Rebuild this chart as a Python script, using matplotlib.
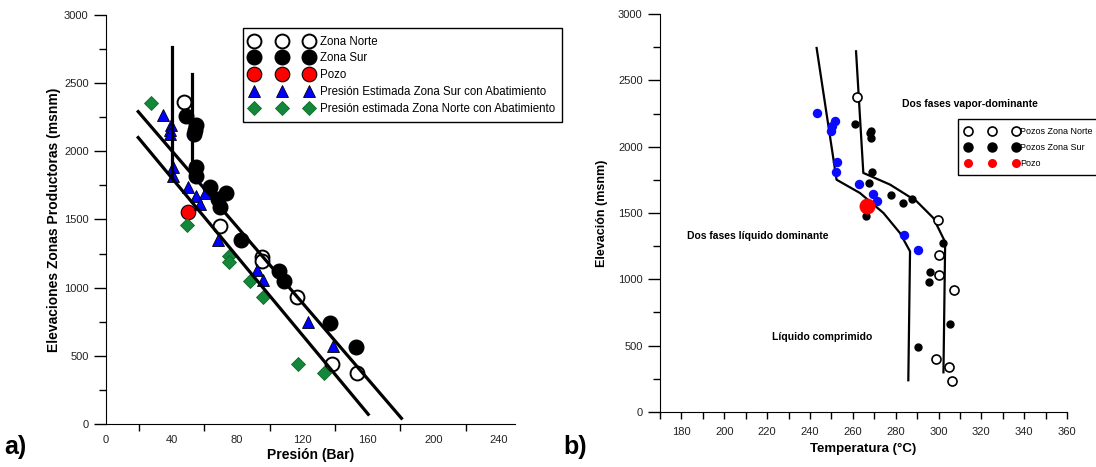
import matplotlib
matplotlib.use('Agg')
import matplotlib.pyplot as plt
from matplotlib.ticker import MultipleLocator

plt.rcParams['font.family'] = ['Liberation Sans', 'DejaVu Sans']

# ---- panel a): presion vs elevacion ----
norte_p = [47.7, 69.8, 95.4, 95.4, 117.0, 138.0, 153.6]
norte_e = [2365, 1455, 1228, 1198, 934, 438, 377]

sur_p = [48.7, 54.8, 54.2, 53.6, 55.2, 54.8, 63.3, 73.4, 68.4, 69.8, 82.6, 105.9, 109.0, 137.0, 152.6]
sur_e = [2260, 2194, 2160, 2125, 1888, 1822, 1736, 1692, 1649, 1594, 1347, 1123, 1049, 743, 567]

pozo_p = [50.1]
pozo_e = [1558]

est_sur_p = [34.9, 40.0, 39.4, 39.4, 41.0, 41.0, 50.1, 55.2, 57.2, 60.3, 68.4, 92.1, 95.8, 123.6, 139.0]
est_sur_e = [2267, 2194, 2157, 2125, 1888, 1822, 1736, 1673, 1614, 1697, 1347, 1130, 1057, 751, 572]

est_norte_p = [27.8, 49.7, 75.1, 75.1, 88.3, 96.2, 117.5, 133.3]
est_norte_e = [2357, 1456, 1233, 1191, 1049, 934, 438, 377]

# gradient lines (pressure, elevation)
sup_line_p = [19.7, 180.6]
sup_line_e = [2291, 42]
inf_line_p = [19.7, 160.3]
inf_line_e = [2101, 71]
vert1_p = [40.6, 40.6]
vert1_e = [2768, 1815]
vert2_p = [52.8, 52.8]
vert2_e = [2565, 1860]

# ---- panel b): temperatura vs elevacion ----
tn_t = [261.9, 299.7, 300.0, 300.4, 307.4, 298.9, 304.8, 306.5]
tn_e = [2374, 1450, 1186, 1030, 917, 402, 337, 231]

ts_t = [261.0, 268.3, 268.0, 268.3, 269.1, 267.7, 277.7, 283.6, 287.5, 266.0, 302.0, 296.1, 295.6, 305.4, 290.2]
ts_e = [2171, 2121, 2103, 2063, 1809, 1729, 1638, 1578, 1606, 1480, 1271, 1055, 977, 666, 490]

tb_t = [243.1, 251.7, 250.1, 249.6, 252.4, 252.1, 263.0, 269.6, 271.4, 283.9, 290.2]
tb_e = [2254, 2191, 2153, 2121, 1882, 1809, 1721, 1646, 1593, 1337, 1224]

tpozo_t = [266.5]
tpozo_e = [1555]

# boundary curves
curva1_t = [243.1, 252.4, 263.3, 274.3, 282.0, 286.7, 285.9]
curva1_e = [2744, 1751, 1651, 1500, 1349, 1211, 239]
curva2_t = [261.5, 264.9, 277.4, 289.8, 297.6, 303.1, 302.3]
curva2_e = [2719, 1802, 1714, 1588, 1462, 1281, 299]

fig = plt.figure(figsize=(10.96, 4.67), dpi=100)
ax1 = fig.add_axes([0.0967, 0.0921, 0.3732, 0.8758])
ax2 = fig.add_axes([0.6022, 0.1178, 0.3714, 0.8522])

h1, = ax1.plot(norte_p, norte_e, 'o', ms=10, mfc='white', mec='black', mew=1.4, ls='none')
h2, = ax1.plot(sur_p, sur_e, 'o', ms=10.5, mfc='black', mec='black', ls='none')
h3, = ax1.plot(pozo_p, pozo_e, 'o', ms=10.5, mfc='#ff0000', mec='black', mew=0.8, ls='none')
h4, = ax1.plot(est_sur_p, est_sur_e, '^', ms=9, mfc='#0000ff', mec='black', mew=0.6, ls='none')
h5, = ax1.plot(est_norte_p, est_norte_e, 'D', ms=7.5, mfc='#14883a', mec='#0d6a2a', mew=0.6, ls='none')

for xs, ys in [(sup_line_p, sup_line_e), (inf_line_p, inf_line_e),
               (vert1_p, vert1_e), (vert2_p, vert2_e)]:
    ax1.plot(xs, ys, color='black', lw=2.3, zorder=5)

ax1.set_xlim(0, 250)
ax1.set_ylim(0, 3000)
ax1.set_xticks(range(0, 241, 40))
ax1.set_xticks(range(20, 241, 40), minor=True)
ax1.tick_params(axis='x', which='major', length=0, pad=8, labelsize=8, labelcolor='#222222')
ax1.tick_params(axis='x', which='minor', length=5, width=1)
ax1.yaxis.set_major_locator(MultipleLocator(500))
ax1.yaxis.set_minor_locator(MultipleLocator(250))
ax1.tick_params(axis='y', which='major', length=9, width=1, labelsize=8, labelcolor='#222222')
ax1.tick_params(axis='y', which='minor', length=5, width=1)
for s in ['top', 'right']:
    ax1.spines[s].set_visible(False)
ax1.set_xlabel('Presión (Bar)', fontsize=10, fontweight='bold', labelpad=2)
ax1.set_ylabel('Elevaciones Zonas Productoras (msnm)', fontsize=10, fontweight='bold', labelpad=2)

leg1 = ax1.legend([h1, h2, h3, h4, h5],
                  ['Zona Norte', 'Zona Sur', 'Pozo',
                   'Presión Estimada Zona Sur con Abatimiento',
                   'Presión estimada Zona Norte con Abatimiento'],
                  loc='upper left', bbox_to_anchor=(0.335, 0.968), numpoints=3,
                  handlelength=5.4, handletextpad=0.6, fontsize=8.3, labelspacing=0.42,
                  borderpad=0.65, borderaxespad=0, fancybox=False, framealpha=1,
                  edgecolor='black')
leg1.get_frame().set_linewidth(1.0)

# panel b
ax2.plot(curva1_t, curva1_e, color='black', lw=1.6, zorder=2)
ax2.plot(curva2_t, curva2_e, color='black', lw=1.6, zorder=2)
ax2.plot(tb_t, tb_e, 'o', ms=6.8, mfc='#0a0aff', mec='none', ls='none', zorder=3)
g1, = ax2.plot(tn_t, tn_e, 'o', ms=6.5, mfc='white', mec='black', mew=1.2, ls='none', zorder=3)
g2, = ax2.plot(ts_t, ts_e, 'o', ms=5, mfc='black', mec='black', ls='none', zorder=3)
g3, = ax2.plot(tpozo_t, tpozo_e, 'o', ms=11.5, mfc='#ff0000', mec='none', ls='none', zorder=4)

ax2.set_xlim(170, 360)
ax2.set_ylim(0, 3000)
ax2.set_xticks(range(180, 361, 20))
ax2.set_xticks(range(170, 361, 20), minor=True)
ax2.tick_params(axis='x', which='both', length=5, width=1)
ax2.tick_params(axis='x', which='major', labelsize=8, labelcolor='#222222', pad=6)
ax2.yaxis.set_major_locator(MultipleLocator(500))
ax2.yaxis.set_minor_locator(MultipleLocator(250))
ax2.tick_params(axis='y', which='major', length=9, width=1, labelsize=8, labelcolor='#222222')
ax2.tick_params(axis='y', which='minor', length=5, width=1)
for s in ['top', 'right']:
    ax2.spines[s].set_visible(False)
ax2.set_xlabel('Temperatura (°C)', fontsize=9.5, fontweight='bold', labelpad=4)
ax2.set_ylabel('Elevación (msnm)', fontsize=9, fontweight='bold', labelpad=7)

ax2.text(283, 2321, 'Dos fases vapor-dominante', fontsize=7.5, fontweight='bold', va='center')
ax2.text(182.5, 1327, 'Dos fases líquido dominante', fontsize=7.5, fontweight='bold', va='center')
ax2.text(222.2, 568, 'Líquido comprimido', fontsize=7.5, fontweight='bold', va='center')

leg2 = ax2.legend([g1, g2, g3], ['Pozos Zona Norte', 'Pozos Zona Sur', 'Pozo'],
                  loc='upper left', bbox_to_anchor=(0.732, 0.735), numpoints=3,
                  handlelength=5.9, handletextpad=0.15, fontsize=6.5, labelspacing=0.75,
                  borderpad=0.85, borderaxespad=0, fancybox=False, framealpha=1,
                  edgecolor='black')
leg2.get_frame().set_linewidth(1.0)
for lh in leg2.legend_handles:
    lh.set_markersize(6.5)

fig.text(0.004, 0.043, 'a)', fontsize=18, fontweight='bold', va='center')
fig.text(0.514, 0.043, 'b)', fontsize=18, fontweight='bold', va='center')

fig.savefig('out.png', dpi=100)
